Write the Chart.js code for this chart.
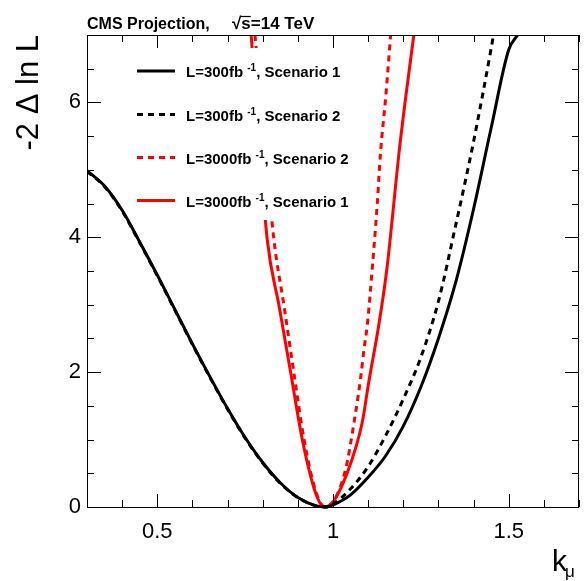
<!DOCTYPE html>
<html>
<head>
<meta charset="utf-8">
<script src="https://cdn.jsdelivr.net/npm/chart.js@4/dist/chart.umd.min.js"></script>
<style>
  html, body { margin: 0; padding: 0; background: #fff; }
  #wrap { width: 584px; height: 581px; }
</style>
</head>
<body>
<div id="wrap"><canvas id="c" width="584" height="581"></canvas></div>
<script>
// Axis tick labels
const xTickLabels = [0.5, 1, 1.5];
const yTickLabels = [0, 2, 4, 6];

// Legend text pieces
const lumiValues = ['300', '300', '3000', '3000'];
const scenarioIds = ['1', '2', '2', '1'];

// L = 300 fb^-1, Scenario 1
const kappa300S1 = [0.30, 0.35, 0.40, 0.45, 0.50, 0.55, 0.60, 0.65, 0.70, 0.75, 0.80, 0.85, 0.90, 0.95, 0.98,
                    1.00, 1.05, 1.10, 1.15, 1.20, 1.25, 1.30, 1.35, 1.40, 1.45, 1.50, 1.527];
const nll300S1   = [4.99, 4.76, 4.40, 3.93, 3.44, 2.93, 2.42, 1.93, 1.46, 1.03, 0.66, 0.36, 0.14, 0.02, 0.00,
                    0.03, 0.18, 0.44, 0.76, 1.20, 1.78, 2.50, 3.35, 4.42, 5.62, 6.78, 7.01];

// L = 300 fb^-1, Scenario 2
const kappa300S2 = [0.30, 0.35, 0.40, 0.45, 0.50, 0.55, 0.60, 0.65, 0.70, 0.75, 0.80, 0.85, 0.90, 0.95, 0.98,
                    1.00, 1.05, 1.10, 1.15, 1.20, 1.25, 1.30, 1.35, 1.40, 1.45, 1.46];
const nll300S2   = [4.98, 4.75, 4.39, 3.92, 3.43, 2.92, 2.41, 1.92, 1.45, 1.02, 0.65, 0.35, 0.14, 0.02, 0.00,
                    0.04, 0.27, 0.60, 1.06, 1.60, 2.22, 3.05, 4.20, 5.42, 6.80, 7.10];

// L = 3000 fb^-1, Scenario 2
const kappa3000S2 = [0.778, 0.832, 0.861, 0.889, 0.918, 0.953, 0.977, 1.033, 1.064, 1.079, 1.088, 1.098,
                     1.112, 1.126, 1.135, 1.15, 1.164];
const nll3000S2   = [7.00, 3.96, 2.97, 1.98, 0.99, 0.20, 0.00, 0.50, 1.39, 1.93, 2.33, 2.72,
                     3.56, 4.50, 5.24, 6.08, 7.00];

// L = 3000 fb^-1, Scenario 1
const kappa3000S1 = [0.767, 0.813, 0.847, 0.88, 0.913, 0.951, 0.975, 0.998, 1.04, 1.083, 1.102, 1.131,
                     1.154, 1.173, 1.1875, 1.207, 1.23];
const nll3000S1   = [7.00, 3.96, 2.97, 1.98, 0.99, 0.20, 0.00, 0.06, 0.50, 1.25, 1.86, 2.72,
                     3.56, 4.50, 5.24, 6.08, 7.00];

const pts = (xs, ys) => xs.map((v, i) => ({ x: v, y: ys[i] }));

const FONT = '"Liberation Sans", Arial, Helvetica, sans-serif';
const RED = '#ff0000';

function curve(label, xs, ys, color, dashed) {
  return {
    label,
    data: pts(xs, ys),
    borderColor: color,
    borderWidth: 3,
    borderDash: dashed ? [6, 5] : [],
    pointRadius: 0,
    fill: false,
    cubicInterpolationMode: 'monotone',
    clip: { left: 0, top: 0, right: 0, bottom: 3 }
  };
}

const datasets = [
  curve('L=300fb-1, Scenario 1', kappa300S1, nll300S1, '#000', false),
  curve('L=300fb-1, Scenario 2', kappa300S2, nll300S2, '#000', true),
  curve('L=3000fb-1, Scenario 2', kappa3000S2, nll3000S2, RED, true),
  curve('L=3000fb-1, Scenario 1', kappa3000S1, nll3000S1, RED, false)
];

// Frame, inward ticks, legend box and titles in the style of a ROOT canvas
const rootStyle = {
  id: 'rootStyle',
  afterDatasetsDraw(chart) {
    const { ctx, chartArea: a, scales: { x, y } } = chart;
    ctx.save();

    // legend (opaque box over the curves)
    ctx.fillStyle = '#fff';
    ctx.fillRect(132, 48, 233, 172);
    const rowY = [71, 114.5, 157.5, 200.5];
    chart.data.datasets.forEach((ds, i) => {
      const yy = rowY[i];
      ctx.beginPath();
      ctx.strokeStyle = ds.borderColor;
      ctx.lineWidth = 3;
      ctx.setLineDash(ds.borderDash);
      ctx.moveTo(137, yy);
      ctx.lineTo(175, yy);
      ctx.stroke();
      ctx.setLineDash([]);

      ctx.fillStyle = '#000';
      ctx.textBaseline = 'alphabetic';
      ctx.textAlign = 'left';
      ctx.font = 'bold 15px ' + FONT;
      let tx = 186;
      const t1 = 'L=' + lumiValues[i] + 'fb ';
      ctx.fillText(t1, tx, yy + 6);
      tx += ctx.measureText(t1).width;
      ctx.font = 'bold 10px ' + FONT;
      ctx.fillText('-1', tx, yy);
      tx += ctx.measureText('-1').width;
      ctx.font = 'bold 15px ' + FONT;
      ctx.fillText(', Scenario ' + scenarioIds[i], tx, yy + 6);
    });

    // frame
    ctx.strokeStyle = '#000';
    ctx.lineWidth = 1;
    ctx.strokeRect(Math.round(a.left) + 0.5, Math.round(a.top) + 0.5,
                   Math.round(a.right - a.left) - 1, Math.round(a.bottom - a.top));

    // ticks along x (bottom and top), every 0.1, major every 0.5
    ctx.beginPath();
    for (let k = 3; k <= 17; k++) {
      const px = Math.round(x.getPixelForValue(k / 10)) + 0.5;
      const len = (k % 5 === 0) ? 13 : 7;
      ctx.moveTo(px, a.bottom); ctx.lineTo(px, a.bottom - len);
      ctx.moveTo(px, a.top); ctx.lineTo(px, a.top + len);
    }
    // ticks along y (left and right), every 0.5, major every 2
    for (let k = 0; k <= 14; k++) {
      const v = k / 2;
      const py = Math.round(y.getPixelForValue(v)) + 0.5;
      const len = (v % 2 === 0) ? 14 : 7;
      ctx.moveTo(a.left, py); ctx.lineTo(a.left + len, py);
      ctx.moveTo(a.right, py); ctx.lineTo(a.right - len, py);
    }
    ctx.stroke();

    // title
    ctx.fillStyle = '#000';
    ctx.textAlign = 'left';
    ctx.textBaseline = 'alphabetic';
    ctx.font = 'bold 16px ' + FONT;
    ctx.fillText('CMS Projection,', 87, 29);
    ctx.font = 'bold 17px ' + FONT;
    let sx = 232;
    ctx.fillText('\u221A', sx, 29);
    sx += ctx.measureText('\u221A').width;
    const sW = ctx.measureText('s').width;
    ctx.beginPath();
    ctx.lineWidth = 1.2;
    ctx.moveTo(sx - 1, 16.5); ctx.lineTo(sx + sW, 16.5);
    ctx.stroke();
    ctx.fillText('s=14 TeV', sx, 29);

    // y-axis title
    ctx.save();
    ctx.translate(38, 35);
    ctx.rotate(-Math.PI / 2);
    ctx.textAlign = 'right';
    ctx.font = '31px ' + FONT;
    ctx.fillText('-2 \u0394 ln L', 0, 0);
    ctx.restore();

    // x-axis title
    ctx.textAlign = 'left';
    ctx.font = '30px ' + FONT;
    ctx.fillText('k', 552, 571);
    ctx.font = '17px ' + FONT;
    ctx.fillText('\u03BC', 565, 577);

    ctx.restore();
  }
};

new Chart(document.getElementById('c'), {
  type: 'line',
  data: { datasets },
  options: {
    responsive: false,
    animation: false,
    devicePixelRatio: 1,
    layout: { padding: { top: 35, right: 5, left: 0, bottom: 0 } },
    plugins: { legend: { display: false }, tooltip: { enabled: false } },
    scales: {
      x: {
        type: 'linear',
        min: 0.3,
        max: 1.7,
        afterBuildTicks: s => { s.ticks = xTickLabels.map(v => ({ value: v })); },
        afterFit: s => { s.height = 74; },
        grid: { display: false, drawTicks: false },
        border: { display: false },
        ticks: {
          color: '#000',
          font: { family: FONT, size: 22 },
          padding: 12,
          maxRotation: 0,
          autoSkip: false,
          callback: v => String(v)
        }
      },
      y: {
        type: 'linear',
        min: 0,
        max: 7,
        afterBuildTicks: s => { s.ticks = yTickLabels.map(v => ({ value: v })); },
        afterFit: s => { s.width = 87; },
        grid: { display: false, drawTicks: false },
        border: { display: false },
        ticks: {
          color: '#000',
          font: { family: FONT, size: 22 },
          padding: 6,
          autoSkip: false,
          callback: v => String(v)
        }
      }
    }
  },
  plugins: [rootStyle]
});
</script>
</body>
</html>
